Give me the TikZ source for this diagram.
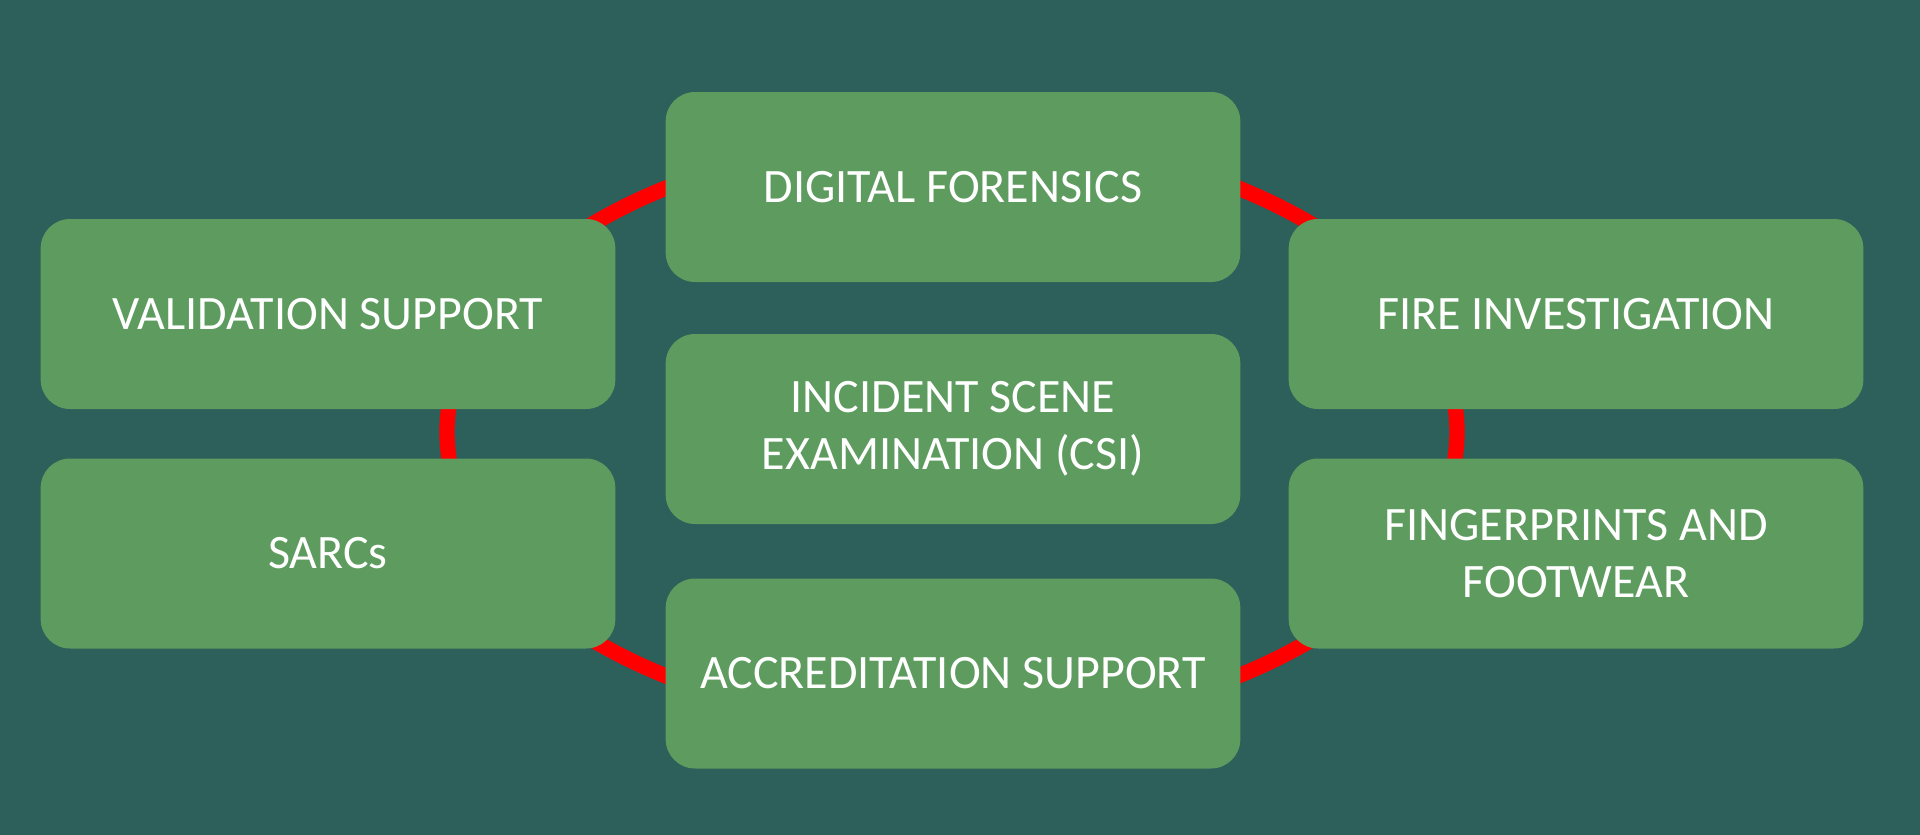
\documentclass[tikz,border=0pt]{standalone}
\usepackage{fontspec}
\setmainfont{Carlito}
\definecolor{bgteal}{HTML}{2D5F5B}
\definecolor{boxgreen}{HTML}{5E9B5F}
\definecolor{ringred}{HTML}{FF0000}
\begin{document}
\begin{tikzpicture}[x=0.75pt,y=-0.75pt,
  card/.style={fill=boxgreen, draw=none, rounded corners=22pt,
    minimum width=431pt, minimum height=142.5pt, inner sep=0pt,
    text=white, align=center, font=\fontsize{36}{42.75}\selectfont},
  ring/.style={draw=ringred, line width=11.5pt}]
\fill[bgteal] (0,0) rectangle (1920,835);
\useasboundingbox (0,0) rectangle (1920,835);
\coordinate (c) at (952,432);
\draw[ring] (c) ellipse [x radius=378.75pt, y radius=222pt];
\node[card] (df) at (953,187) {DIGITAL FORENSICS};
\node[card] (vs) at (328,314) {VALIDATION SUPPORT};
\node[card] (fi) at (1576,314) {FIRE INVESTIGATION};
\node[card] (ise) at (953,429) {INCIDENT SCENE\\EXAMINATION (CSI)};
\node[card] (sarc) at (328,553.5) {SARCs};
\node[card] (ff) at (1576,553.5) {FINGERPRINTS AND\\FOOTWEAR};
\node[card] (acc) at (953,673.5) {ACCREDITATION SUPPORT};
\end{tikzpicture}
\end{document}
